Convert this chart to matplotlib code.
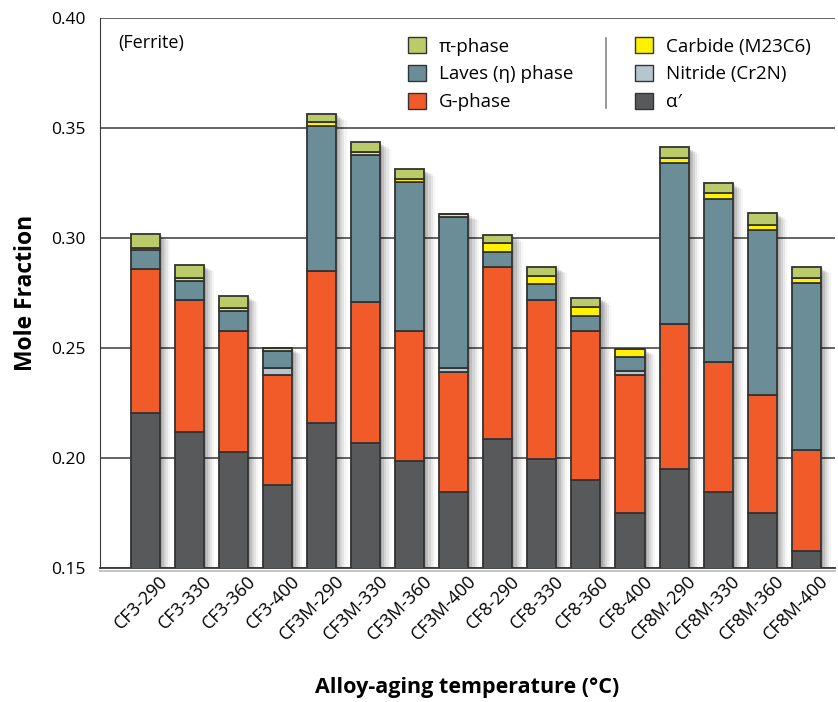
import numpy as np
import matplotlib
matplotlib.use("Agg")
import matplotlib.pyplot as plt
import matplotlib.patheffects as pe
from matplotlib.patches import Patch
from matplotlib.lines import Line2D

plt.rcParams['font.family'] = ['Open Sans', 'DejaVu Sans']

alloys = ["CF3-290", "CF3-330", "CF3-360", "CF3-400",
          "CF3M-290", "CF3M-330", "CF3M-360", "CF3M-400",
          "CF8-290", "CF8-330", "CF8-360", "CF8-400",
          "CF8M-290", "CF8M-330", "CF8M-360", "CF8M-400"]

# mole fraction of each phase, stacked bottom to top
alpha_prime = [0.2203, 0.2117, 0.2027, 0.1877, 0.2161, 0.2068, 0.1988, 0.1845,
               0.2088, 0.1997, 0.1899, 0.1749, 0.1949, 0.1847, 0.1749, 0.1579]
g_phase = [0.0655, 0.0600, 0.0549, 0.0499, 0.0688, 0.0640, 0.0591, 0.0545,
           0.0779, 0.0720, 0.0678, 0.0630, 0.0659, 0.0589, 0.0537, 0.0459]
nitride = [0, 0, 0, 0.0032, 0, 0, 0, 0.0018,
           0, 0, 0, 0.0018, 0, 0, 0, 0]
laves = [0.0089, 0.0088, 0.0092, 0.0078, 0.0659, 0.0668, 0.0676, 0.0686,
         0.0071, 0.0072, 0.0070, 0.0061, 0.0732, 0.0741, 0.0750, 0.0756]
carbide = [0.0009, 0.0012, 0.0012, 0.0013, 0.0018, 0.0016, 0.0015, 0.0015,
           0.0038, 0.0040, 0.0038, 0.0037, 0.0022, 0.0026, 0.0023, 0.0023]
pi_phase = [0.0061, 0.0060, 0.0056, 0, 0.0038, 0.0043, 0.0042, 0,
            0.0036, 0.0038, 0.0041, 0, 0.0050, 0.0046, 0.0053, 0.0050]

c_alpha = "#58595b"
c_g = "#f15a29"
c_nitride = "#b5c7cc"
c_laves = "#6b8d98"
c_carbide = "#fff200"
c_pi = "#bccb6a"
edge = "#333333"

fig = plt.figure(figsize=(8.38, 7.02), dpi=100)
ax = fig.add_axes([0.1193, 0.1909, 0.8770, 0.7835])

x = np.arange(len(alloys))
width = 0.66
stack = [(alpha_prime, c_alpha), (g_phase, c_g), (nitride, c_nitride),
         (laves, c_laves), (carbide, c_carbide), (pi_phase, c_pi)]

totals = np.sum([s for s, _ in stack], axis=0)

# soft drop shadow behind each column
shadow = [pe.SimplePatchShadow(offset=(d, -d * 0.6), shadow_rgbFace="k", alpha=a)
          for d, a in [(1.5, 0.12), (3, 0.10), (4.5, 0.08), (6, 0.06), (7.5, 0.04)]]
ax.bar(x, totals, width, color="none", zorder=2, path_effects=shadow)

bottom = np.zeros(len(alloys))
for vals, col in stack:
    vals = np.array(vals)
    ax.bar(x, vals, width, bottom=bottom, color=col, edgecolor=edge,
           linewidth=1.3, zorder=3)
    bottom += vals

ax.set_ylim(0.15, 0.40)
ax.set_xlim(-1.03, 15.65)
ax.set_yticks([0.15, 0.20, 0.25, 0.30, 0.35, 0.40])
ax.set_yticklabels(["0.15", "0.20", "0.25", "0.30", "0.35", "0.40"], fontsize=12.5)
ax.yaxis.grid(True, color="#3a3a3a", linewidth=1.1, zorder=0)
ax.set_axisbelow(True)
ax.tick_params(axis="y", length=0, pad=10)
ax.tick_params(axis="x", length=0, pad=3)

ax.set_xticks(x + 0.3)
ax.set_xticklabels(alloys, rotation=45, ha="right", va="top",
                   rotation_mode="anchor", fontsize=13)

for side in ["top", "right"]:
    ax.spines[side].set_visible(False)
ax.spines["left"].set_color("#3a3a3a")
ax.spines["bottom"].set_color("#3a3a3a")
ax.spines["bottom"].set_linewidth(1.3)
ax.spines["bottom"].set_path_effects(
    [pe.SimpleLineShadow(offset=(0, -2), alpha=0.25), pe.Normal()])

ax.set_ylabel("Mole Fraction", fontsize=16.5, fontweight="bold", labelpad=10)
ax.set_xlabel("Alloy-aging temperature (°C)", fontsize=15.5, fontweight="bold",
              labelpad=24)

ax.text(0.025, 0.955, "(Ferrite)", transform=ax.transAxes, fontsize=13,
        ha="left", va="center")

handles = [Patch(facecolor=c_pi, edgecolor=edge, label="π-phase"),
           Patch(facecolor=c_laves, edgecolor=edge, label="Laves (η) phase"),
           Patch(facecolor=c_g, edgecolor=edge, label="G-phase"),
           Patch(facecolor=c_carbide, edgecolor=edge, label="Carbide (M23C6)"),
           Patch(facecolor=c_nitride, edgecolor=edge, label="Nitride (Cr2N)"),
           Patch(facecolor=c_alpha, edgecolor=edge, label="α′")]
leg = ax.legend(handles=handles, ncol=2, frameon=False, fontsize=13.5,
                loc="upper left", bbox_to_anchor=(0.396, 0.996),
                handlelength=0.95, handleheight=0.95, handletextpad=0.7,
                columnspacing=3.3, labelspacing=0.5)

# divider between the two legend columns
ax.add_line(Line2D([0.688, 0.688], [0.836, 0.964], transform=ax.transAxes,
                   color="#888888", linewidth=1.2))

fig.savefig("out.png", dpi=100, facecolor="white")
